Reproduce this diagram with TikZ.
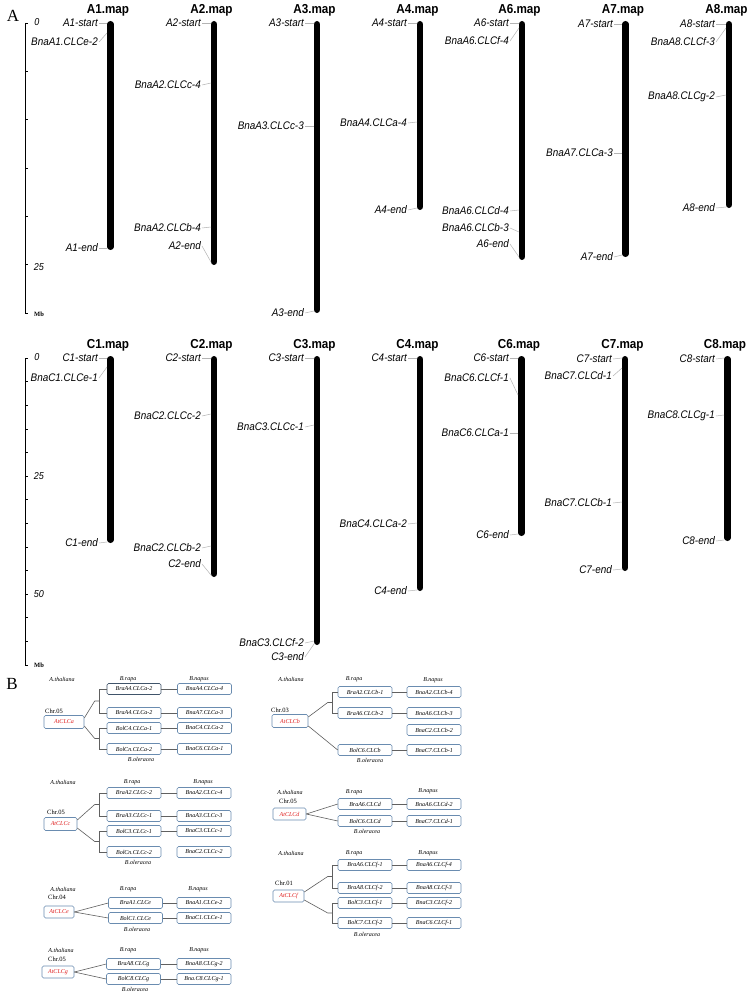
\documentclass[tikz,border=0pt]{standalone}
\usepackage{fontspec}
\setmainfont{Liberation Serif}
\newfontfamily\chromfont[FakeStretch=0.9]{Liberation Sans}
\usetikzlibrary{calc}
\definecolor{boxblue}{HTML}{6A8CB0}
\definecolor{conngray}{HTML}{B4B4B4}
\definecolor{treegray}{HTML}{606060}
\definecolor{atred}{HTML}{E02020}
\tikzset{
 chrombar/.style={line width=6.5pt, line cap=round},
 maptitle/.style={font=\chromfont\bfseries\fontsize{13}{13}\selectfont, inner sep=0},
 lab/.style={font=\chromfont\itshape\fontsize{11}{11}\selectfont, anchor=east, inner xsep=1pt, inner ysep=0},
 conn/.style={draw=conngray, line width=0.5pt},
 scl/.style={font=\chromfont\itshape\fontsize{10}{10}\selectfont, inner sep=0},
 mbl/.style={font=\bfseries\fontsize{6.5}{6.5}\selectfont, inner sep=0},
 panel/.style={font=\fontsize{17}{17}\selectfont, inner sep=0},
 gb/.style={draw=boxblue, fill=white, rounded corners=1.5pt, minimum width=54pt, minimum height=11pt, inner sep=0, line width=0.6pt, font=\itshape\fontsize{6}{6}\selectfont},
 atb/.style={gb, minimum width=#1, minimum height=13pt, text=atred},
 sp/.style={font=\itshape\fontsize{6}{6}\selectfont, inner sep=0},
 chrl/.style={font=\fontsize{6.5}{6.5}\selectfont, inner sep=0},
 tree/.style={draw=treegray, line width=0.6pt},
}
\newcommand\glab[6]{\node[lab] (#1) at (#2,#3) {#6}; \coordinate (#1p) at (#4,#5); \draw[conn] (#1.east) -- (#1p);}
\newcommand\chromo[5]{\coordinate (#1t) at (#2,#3); \coordinate (#1b) at (#2,#4);
 \draw[chrombar] ([yshift=-3.25pt]#1t) -- ([yshift=3.25pt]#1b);
 \node[maptitle] (#1m) at ($(#1t)+(-2.5,-11)$) {#5};}
\begin{document}
\begin{tikzpicture}[x=1pt,y=-1pt]
\useasboundingbox (0,0) rectangle (750,995);
\fill[white] (0,0) rectangle (750,995);
\node[panel] (pA) at (13,16) {A};
\node[panel] (pB) at (12,684) {B};
% scale bars
\coordinate (s1t) at (25,23); \coordinate (s1b) at (25,313);
\draw[line width=0.6pt] (s1t) -- (s1b);
\foreach \k in {0,...,6} \draw[line width=0.6pt] ($(s1t)+(0,48.33*\k)$) -- ++(3,0);
\node[scl] (s1a) at (37,22) {0};
\node[scl] (s1c) at (39,267) {25};
\node[mbl] (s1m) at (39,314) {Mb};
\coordinate (s2t) at (25,358); \coordinate (s2b) at (25,664.8);
\draw[line width=0.6pt] (s2t) -- (s2b);
\foreach \k in {0,...,13} \draw[line width=0.6pt] ($(s2t)+(0,23.6*\k)$) -- ++(3,0);
\node[scl] (s2a) at (37,357) {0};
\node[scl] (s2c) at (39,476) {25};
\node[scl] (s2d) at (39,594) {50};
\node[mbl] (s2m) at (39,665) {Mb};
% chromosomes
\chromo{A1}{110.5}{21}{250}{A1.map}
\chromo{A2}{214}{21}{265}{A2.map}
\chromo{A3}{317}{21}{313}{A3.map}
\chromo{A4}{420}{21}{210}{A4.map}
\chromo{A6}{522}{21}{260}{A6.map}
\chromo{A7}{625.5}{21}{257}{A7.map}
\chromo{A8}{729}{21}{208}{A8.map}
\chromo{C1}{110.5}{356}{543}{C1.map}
\chromo{C2}{214}{356}{577}{C2.map}
\chromo{C3}{317}{356}{645}{C3.map}
\chromo{C4}{420}{356}{591}{C4.map}
\chromo{C6}{521.5}{356}{536}{C6.map}
\chromo{C7}{625}{356}{571}{C7.map}
\chromo{C8}{727.5}{356}{541}{C8.map}
% labels A
\glab{a1s}{99}{23}{107}{23}{A1-start}
\glab{a1g}{99}{42}{107}{33}{BnaA1.CLCe-2}
\glab{a1e}{99}{248}{107}{248}{A1-end}
\glab{a2s}{202}{23}{211}{23}{A2-start}
\glab{a2ga}{202}{85}{211}{83}{BnaA2.CLCc-4}
\glab{a2gb}{202}{228}{211}{227}{BnaA2.CLCb-4}
\glab{a2e}{202}{246}{211}{262}{A2-end}
\glab{a3s}{305}{23}{314}{23}{A3-start}
\glab{a3g}{305}{126}{314}{126}{BnaA3.CLCc-3}
\glab{a3e}{305}{313}{314}{311}{A3-end}
\glab{a4s}{408}{23}{417}{23}{A4-start}
\glab{a4g}{408}{123}{417}{122}{BnaA4.CLCa-4}
\glab{a4e}{408}{210}{417}{208}{A4-end}
\glab{a6s}{510}{23}{519}{23}{A6-start}
\glab{a6ga}{510}{41}{519}{28}{BnaA6.CLCf-4}
\glab{a6gb}{510}{211}{519}{210}{BnaA6.CLCd-4}
\glab{a6gc}{510}{228}{519}{232}{BnaA6.CLCb-3}
\glab{a6e}{510}{244}{519}{257}{A6-end}
\glab{a7s}{614}{24}{622}{24}{A7-start}
\glab{a7g}{614}{153}{622}{153}{BnaA7.CLCa-3}
\glab{a7e}{614}{257}{622}{255}{A7-end}
\glab{a8s}{716}{24}{726}{24}{A8-start}
\glab{a8ga}{716}{42}{726}{28}{BnaA8.CLCf-3}
\glab{a8gb}{716}{97}{726}{95}{BnaA8.CLCg-2}
\glab{a8e}{716}{208}{726}{207}{A8-end}
% labels C
\glab{c1s}{99}{358}{107}{358}{C1-start}
\glab{c1g}{99}{378}{107}{367}{BnaC1.CLCe-1}
\glab{c1e}{99}{543}{107}{542}{C1-end}
\glab{c2s}{202}{358}{211}{358}{C2-start}
\glab{c2ga}{202}{416}{211}{414}{BnaC2.CLCc-2}
\glab{c2gb}{202}{548}{211}{546}{BnaC2.CLCb-2}
\glab{c2e}{202}{564}{211}{575}{C2-end}
\glab{c3s}{305}{358}{314}{358}{C3-start}
\glab{c3ga}{305}{427}{314}{425}{BnaC3.CLCc-1}
\glab{c3gb}{305}{643}{314}{641}{BnaC3.CLCf-2}
\glab{c3e}{305}{657}{314}{644}{C3-end}
\glab{c4s}{408}{358}{417}{358}{C4-start}
\glab{c4g}{408}{524}{417}{523}{BnaC4.CLCa-2}
\glab{c4e}{408}{591}{417}{590}{C4-end}
\glab{c6s}{510}{358}{518}{358}{C6-start}
\glab{c6ga}{510}{378}{518}{395}{BnaC6.CLCf-1}
\glab{c6gb}{510}{433}{518}{433}{BnaC6.CLCa-1}
\glab{c6e}{510}{535}{518}{534}{C6-end}
\glab{c7s}{613}{359}{622}{358}{C7-start}
\glab{c7ga}{613}{376}{622}{368}{BnaC7.CLCd-1}
\glab{c7gb}{613}{503}{622}{502}{BnaC7.CLCb-1}
\glab{c7e}{613}{570}{622}{569}{C7-end}
\glab{c8s}{716}{359}{724}{358}{C8-start}
\glab{c8g}{716}{416}{724}{415}{BnaC8.CLCg-1}
\glab{c8e}{716}{541}{724}{540}{C8-end}
% ---------- Part B ----------
% group a
\node[sp] (ga1) at (62,679) {A.thaliana};
\node[sp] (ga2) at (128,679) {B.rapa};
\node[sp] (ga3) at (199,679) {B.napus};
\node[chrl] (ga4) at (54,711) {Chr.05};
\node[sp] (ga5) at (141,759) {B.oleracea};
\node[atb=40pt] (gat) at (64,722) {AtCLCa};
\node[gb, draw=boxblue!60!black] (gar1) at (134,689) {BraA4.CLCa-2};
\node[gb] (gar2) at (134,713) {BraA4.CLCa-2};
\node[gb] (gar3) at (134,728) {BolC4.CLCa-1};
\node[gb] (gar4) at (134,749) {BolCn.CLCa-2};
\node[gb] (gan1) at (204.5,689) {BnaA4.CLCa-4};
\node[gb] (gan2) at (204.5,713) {BnaA7.CLCa-3};
\node[gb] (gan3) at (204.5,728) {BnaC4.CLCa-2};
\node[gb] (gan4) at (204.5,749) {BnaC6.CLCa-1};
\foreach \i in {1,...,4} \draw[tree] (gar\i) -- (gan\i);
\draw[tree] (gar1.west) -- ++(-7,0) |- (gar2.west);
\draw[tree] (gar3.west) -- ++(-7,0) |- (gar4.west);
\draw[tree] ([yshift=4pt]gat.east) -- ($(gar1.west)!0.5!(gar2.west)+(-12,0)$) -- ++(5,0);
\draw[tree] ([yshift=-4pt]gat.east) -- ($(gar3.west)!0.5!(gar4.west)+(-12,0)$) -- ++(5,0);
% group b
\node[sp] (gb1) at (291,679) {A.thaliana};
\node[sp] (gb2) at (354,679) {B.rapa};
\node[sp] (gb3) at (433,680) {B.napus};
\node[chrl] (gb4) at (280,710) {Chr.03};
\node[sp] (gb5) at (370,760) {B.oleracea};
\node[atb=36pt] (gbt) at (290,721) {AtCLCb};
\node[gb] (gbr1) at (365,692) {BraA2.CLCb-1};
\node[gb] (gbr2) at (365,713) {BraA6.CLCb-2};
\node[gb] (gbr4) at (365,750) {BolC6.CLCb};
\node[gb] (gbn1) at (434,692) {BnaA2.CLCb-4};
\node[gb] (gbn2) at (434,713) {BnaA6.CLCb-3};
\node[gb] (gbn3) at (434,730) {BnaC2.CLCb-2};
\node[gb] (gbn4) at (434,750) {BnaC7.CLCb-1};
\draw[tree] (gbr1) -- (gbn1);
\draw[tree] (gbr2) -- (gbn2);
\draw[tree] (gbr4) -- (gbn4);
\draw[tree] (gbr1.west) -- ++(-5,0) |- (gbr2.west);
\draw[tree] ([yshift=4pt]gbt.east) -- ($(gbr1.west)!0.5!(gbr2.west)+(-10,0)$) -- ++(5,0);
\draw[tree] ([yshift=-5pt]gbt.east) -- (gbr4.west);
% group c
\node[sp] (gc1) at (63,782) {A.thaliana};
\node[sp] (gc2) at (132,782) {B.rapa};
\node[sp] (gc3) at (203,782) {B.napus};
\node[chrl] (gc4) at (56,812) {Chr.05};
\node[sp] (gc5) at (138,862) {B.oleracea};
\node[atb=33pt] (gct) at (60.5,824) {AtCLCc};
\node[gb] (gcr1) at (134,793) {BraA2.CLCc-2};
\node[gb] (gcr2) at (134,816) {BraA3.CLCc-1};
\node[gb] (gcr3) at (134,831) {BolC3.CLCc-1};
\node[gb] (gcr4) at (134,852) {BolCn.CLCc-2};
\node[gb] (gcn1) at (204,793) {BnaA2.CLCc-4};
\node[gb] (gcn2) at (204,816) {BnaA3.CLCc-3};
\node[gb] (gcn3) at (204,831) {BnaC3.CLCc-1};
\node[gb] (gcn4) at (204,852) {BnaC2.CLCc-2};
\foreach \i in {1,...,3} \draw[tree] (gcr\i) -- (gcn\i);
\draw[tree] (gcr1.west) -- ++(-7,0) |- (gcr2.west);
\draw[tree] (gcr3.west) -- ++(-7,0) |- (gcr4.west);
\draw[tree] ([yshift=4pt]gct.east) -- ($(gcr1.west)!0.5!(gcr2.west)+(-12,0)$) -- ++(5,0);
\draw[tree] ([yshift=-4pt]gct.east) -- ($(gcr3.west)!0.5!(gcr4.west)+(-12,0)$) -- ++(5,0);
% group d
\node[sp] (gd1) at (290,792) {A.thaliana};
\node[chrl] (gd4) at (288,801) {Chr.05};
\node[sp] (gd2) at (354,792) {B.rapa};
\node[sp] (gd3) at (428,791) {B.napus};
\node[sp] (gd5) at (367,831) {B.oleracea};
\node[atb=33pt, minimum height=12pt] (gdt) at (289.5,814) {AtCLCd};
\node[gb] (gdr1) at (365,804) {BraA6.CLCd};
\node[gb] (gdr2) at (365,821) {BolC6.CLCd};
\node[gb] (gdn1) at (434,804) {BnaA6.CLCd-2};
\node[gb] (gdn2) at (434,821) {BnaC7.CLCd-1};
\draw[tree] (gdr1) -- (gdn1);
\draw[tree] (gdr2) -- (gdn2);
\draw[tree] (gdt.east) -- (gdr1.west);
\draw[tree] (gdt.east) -- (gdr2.west);
% group f
\node[sp] (gf1) at (291,853) {A.thaliana};
\node[sp] (gf2) at (354,853) {B.rapa};
\node[sp] (gf3) at (428,853) {B.napus};
\node[chrl] (gf4) at (284,883) {Chr.01};
\node[sp] (gf5) at (367,934) {B.oleracea};
\node[atb=31pt, minimum height=12pt] (gft) at (288.5,896) {AtCLCf};
\node[gb] (gfr1) at (365,865) {BraA6.CLCf-1};
\node[gb] (gfr2) at (365,888) {BraA8.CLCf-2};
\node[gb] (gfr3) at (365,903) {BolC3.CLCf-1};
\node[gb] (gfr4) at (365,923) {BolC7.CLCf-2};
\node[gb] (gfn1) at (434,865) {BnaA6.CLCf-4};
\node[gb] (gfn2) at (434,888) {BnaA8.CLCf-3};
\node[gb] (gfn3) at (434,903) {BnaC3.CLCf-2};
\node[gb] (gfn4) at (434,923) {BnaC6.CLCf-1};
\foreach \i in {1,...,4} \draw[tree] (gfr\i) -- (gfn\i);
\draw[tree] (gfr1.west) -- ++(-5,0) |- (gfr2.west);
\draw[tree] (gfr3.west) -- ++(-5,0) |- (gfr4.west);
\draw[tree] ([yshift=4pt]gft.east) -- ($(gfr1.west)!0.5!(gfr2.west)+(-10,0)$) -- ++(5,0);
\draw[tree] ([yshift=-4pt]gft.east) -- ($(gfr3.west)!0.5!(gfr4.west)+(-10,0)$) -- ++(5,0);
% group e
\node[sp] (ge1) at (63,889) {A.thaliana};
\node[chrl] (ge4) at (57,897) {Chr.04};
\node[sp] (ge2) at (128,889) {B.rapa};
\node[sp] (ge3) at (198,889) {B.napus};
\node[sp] (ge5) at (137,929) {B.oleracea};
\node[atb=30pt, minimum height=12pt] (get) at (59,912) {AtCLCe};
\node[gb] (ger1) at (135.5,903) {BraA1.CLCe};
\node[gb] (ger2) at (135.5,918) {BolC1.CLCe};
\node[gb] (gen1) at (204,903) {BnaA1.CLCe-2};
\node[gb] (gen2) at (204,918) {BnaC1.CLCe-1};
\draw[tree] (ger1) -- (gen1);
\draw[tree] (ger2) -- (gen2);
\draw[tree] (get.east) -- (ger1.west);
\draw[tree] (get.east) -- (ger2.west);
% group g
\node[sp] (gg1) at (61,950) {A.thaliana};
\node[chrl] (gg4) at (57,959) {Chr.05};
\node[sp] (gg2) at (128,950) {B.rapa};
\node[sp] (gg3) at (199,950) {B.napus};
\node[sp] (gg5) at (135,989) {B.oleracea};
\node[atb=32pt, minimum height=12pt] (ggt) at (58,972) {AtCLCg};
\node[gb] (ggr1) at (133.5,964) {BraA8.CLCg};
\node[gb] (ggr2) at (133.5,979) {BolC8.CLCg};
\node[gb] (ggn1) at (204,964) {BnaA8.CLCg-2};
\node[gb] (ggn2) at (204,979) {Bna.C8.CLCg-1};
\draw[tree] (ggr1) -- (ggn1);
\draw[tree] (ggr2) -- (ggn2);
\draw[tree] (ggt.east) -- (ggr1.west);
\draw[tree] (ggt.east) -- (ggr2.west);
\end{tikzpicture}
\end{document}
